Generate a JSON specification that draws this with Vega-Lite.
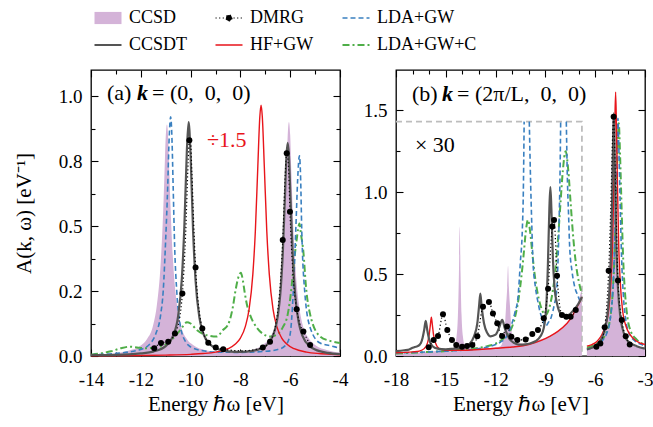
{
"$schema": "https://vega.github.io/schema/vega-lite/v6.json",
"padding": {"left": 12, "top": 9, "right": 5, "bottom": 5},
"spacing": 13,
"config": {
  "font": "Liberation Serif",
  "view": {"stroke": "black", "strokeWidth": 1.3},
  "axis": {"domain": false, "grid": false, "labelFont": "Liberation Serif", "labelFontSize": 19, "labelColor": "black", "tickColor": "black", "tickWidth": 1.1, "titleFont": "Liberation Serif", "titleFontSize": 21, "titleFontWeight": "normal", "titleColor": "black", "labelFlush": false, "labelOverlap": false, "labelBound": false},
  "legend": {"labelFont": "Liberation Serif"},
  "text": {"font": "Liberation Serif"}
},
"datasets": {
"A": [
{"s":"CCSD","g":0,"x":-14,"y":0.005},{"s":"CCSD","g":0,"x":-13,"y":0.011},{"s":"CCSD","g":0,"x":-12.5,"y":0.02},{"s":"CCSD","g":0,"x":-12,"y":0.04},{"s":"CCSD","g":0,"x":-11.75,"y":0.065},{"s":"CCSD","g":0,"x":-11.5,"y":0.12},{"s":"CCSD","g":0,"x":-11.35,"y":0.2},{"s":"CCSD","g":0,"x":-11.2,"y":0.36},{"s":"CCSD","g":0,"x":-11.1,"y":0.56},{"s":"CCSD","g":0,"x":-11.05,"y":0.7},{"s":"CCSD","g":0,"x":-11,"y":0.84},{"s":"CCSD","g":0,"x":-10.95,"y":0.89},{"s":"CCSD","g":0,"x":-10.9,"y":0.84},{"s":"CCSD","g":0,"x":-10.85,"y":0.7},{"s":"CCSD","g":0,"x":-10.8,"y":0.56},{"s":"CCSD","g":0,"x":-10.7,"y":0.36},{"s":"CCSD","g":0,"x":-10.55,"y":0.2},{"s":"CCSD","g":0,"x":-10.4,"y":0.12},{"s":"CCSD","g":0,"x":-10.15,"y":0.065},{"s":"CCSD","g":0,"x":-9.9,"y":0.042},{"s":"CCSD","g":0,"x":-9.4,"y":0.022},{"s":"CCSD","g":0,"x":-9,"y":0.016},{"s":"CCSD","g":0,"x":-8.5,"y":0.014},{"s":"CCSD","g":0,"x":-8,"y":0.016},{"s":"CCSD","g":0,"x":-7.5,"y":0.024},{"s":"CCSD","g":0,"x":-7.1,"y":0.042},{"s":"CCSD","g":0,"x":-6.85,"y":0.067},{"s":"CCSD","g":0,"x":-6.6,"y":0.12},{"s":"CCSD","g":0,"x":-6.45,"y":0.2},{"s":"CCSD","g":0,"x":-6.3,"y":0.36},{"s":"CCSD","g":0,"x":-6.2,"y":0.56},{"s":"CCSD","g":0,"x":-6.15,"y":0.7},{"s":"CCSD","g":0,"x":-6.1,"y":0.85},{"s":"CCSD","g":0,"x":-6.05,"y":0.9},{"s":"CCSD","g":0,"x":-6,"y":0.85},{"s":"CCSD","g":0,"x":-5.95,"y":0.7},{"s":"CCSD","g":0,"x":-5.9,"y":0.56},{"s":"CCSD","g":0,"x":-5.8,"y":0.36},{"s":"CCSD","g":0,"x":-5.65,"y":0.2},{"s":"CCSD","g":0,"x":-5.5,"y":0.12},{"s":"CCSD","g":0,"x":-5.25,"y":0.067},{"s":"CCSD","g":0,"x":-5,"y":0.042},{"s":"CCSD","g":0,"x":-4.5,"y":0.022},{"s":"CCSD","g":0,"x":-4,"y":0.013},
{"s":"CCSDT","g":0,"x":-14,"y":0.003},{"s":"CCSDT","g":0,"x":-13,"y":0.004},{"s":"CCSDT","g":0,"x":-12,"y":0.01},{"s":"CCSDT","g":0,"x":-11.5,"y":0.017},{"s":"CCSDT","g":0,"x":-11,"y":0.038},{"s":"CCSDT","g":0,"x":-10.7,"y":0.078},{"s":"CCSDT","g":0,"x":-10.5,"y":0.154},{"s":"CCSDT","g":0,"x":-10.35,"y":0.3},{"s":"CCSDT","g":0,"x":-10.25,"y":0.5},{"s":"CCSDT","g":0,"x":-10.15,"y":0.79},{"s":"CCSDT","g":0,"x":-10.08,"y":0.9},{"s":"CCSDT","g":0,"x":-10,"y":0.77},{"s":"CCSDT","g":0,"x":-9.9,"y":0.48},{"s":"CCSDT","g":0,"x":-9.8,"y":0.29},{"s":"CCSDT","g":0,"x":-9.65,"y":0.15},{"s":"CCSDT","g":0,"x":-9.5,"y":0.09},{"s":"CCSDT","g":0,"x":-9.2,"y":0.043},{"s":"CCSDT","g":0,"x":-9,"y":0.031},{"s":"CCSDT","g":0,"x":-8.5,"y":0.018},{"s":"CCSDT","g":0,"x":-8,"y":0.016},{"s":"CCSDT","g":0,"x":-7.5,"y":0.02},{"s":"CCSDT","g":0,"x":-7,"y":0.038},{"s":"CCSDT","g":0,"x":-6.75,"y":0.067},{"s":"CCSDT","g":0,"x":-6.5,"y":0.153},{"s":"CCSDT","g":0,"x":-6.4,"y":0.236},{"s":"CCSDT","g":0,"x":-6.3,"y":0.39},{"s":"CCSDT","g":0,"x":-6.2,"y":0.64},{"s":"CCSDT","g":0,"x":-6.15,"y":0.77},{"s":"CCSDT","g":0,"x":-6.1,"y":0.82},{"s":"CCSDT","g":0,"x":-6.05,"y":0.77},{"s":"CCSDT","g":0,"x":-6,"y":0.64},{"s":"CCSDT","g":0,"x":-5.9,"y":0.39},{"s":"CCSDT","g":0,"x":-5.8,"y":0.236},{"s":"CCSDT","g":0,"x":-5.65,"y":0.126},{"s":"CCSDT","g":0,"x":-5.5,"y":0.076},{"s":"CCSDT","g":0,"x":-5.2,"y":0.036},{"s":"CCSDT","g":0,"x":-5,"y":0.025},{"s":"CCSDT","g":0,"x":-4.5,"y":0.012},{"s":"CCSDT","g":0,"x":-4,"y":0.007},
{"s":"DMRG","g":0,"x":-11.46,"y":0.03},{"s":"DMRG","g":0,"x":-11.19,"y":0.05},{"s":"DMRG","g":0,"x":-10.9,"y":0.055},{"s":"DMRG","g":0,"x":-10.63,"y":0.087},{"s":"DMRG","g":0,"x":-10.45,"y":0.14},{"s":"DMRG","g":0,"x":-10.33,"y":0.24},{"s":"DMRG","g":0,"x":-10.2,"y":0.465},{"s":"DMRG","g":0,"x":-10.1,"y":0.74},{"s":"DMRG","g":0,"x":-10.05,"y":0.83},{"s":"DMRG","g":0,"x":-10,"y":0.82},{"s":"DMRG","g":0,"x":-9.95,"y":0.71},{"s":"DMRG","g":0,"x":-9.88,"y":0.52},{"s":"DMRG","g":0,"x":-9.8,"y":0.34},{"s":"DMRG","g":0,"x":-9.65,"y":0.17},{"s":"DMRG","g":0,"x":-9.53,"y":0.106},{"s":"DMRG","g":0,"x":-9.29,"y":0.051},{"s":"DMRG","g":0,"x":-8.99,"y":0.033},{"s":"DMRG","g":0,"x":-8.69,"y":0.026},{"s":"DMRG","g":0,"x":-7.9,"y":0.02},{"s":"DMRG","g":0,"x":-7.1,"y":0.033},{"s":"DMRG","g":0,"x":-6.81,"y":0.055},{"s":"DMRG","g":0,"x":-6.55,"y":0.14},{"s":"DMRG","g":0,"x":-6.42,"y":0.25},{"s":"DMRG","g":0,"x":-6.3,"y":0.446},{"s":"DMRG","g":0,"x":-6.2,"y":0.7},{"s":"DMRG","g":0,"x":-6.14,"y":0.78},{"s":"DMRG","g":0,"x":-6.07,"y":0.73},{"s":"DMRG","g":0,"x":-6.01,"y":0.555},{"s":"DMRG","g":0,"x":-5.9,"y":0.33},{"s":"DMRG","g":0,"x":-5.74,"y":0.18},{"s":"DMRG","g":0,"x":-5.6,"y":0.12},{"s":"DMRG","g":0,"x":-5.47,"y":0.094},{"s":"DMRG","g":0,"x":-5.2,"y":0.042},
{"s":"HF+GW","g":0,"x":-14,"y":0.001},{"s":"HF+GW","g":0,"x":-12,"y":0.002},{"s":"HF+GW","g":0,"x":-11,"y":0.0035},{"s":"HF+GW","g":0,"x":-10,"y":0.0064},{"s":"HF+GW","g":0,"x":-9.5,"y":0.0094},{"s":"HF+GW","g":0,"x":-9,"y":0.015},{"s":"HF+GW","g":0,"x":-8.5,"y":0.028},{"s":"HF+GW","g":0,"x":-8.2,"y":0.046},{"s":"HF+GW","g":0,"x":-8,"y":0.069},{"s":"HF+GW","g":0,"x":-7.8,"y":0.114},{"s":"HF+GW","g":0,"x":-7.65,"y":0.18},{"s":"HF+GW","g":0,"x":-7.5,"y":0.315},{"s":"HF+GW","g":0,"x":-7.4,"y":0.48},{"s":"HF+GW","g":0,"x":-7.3,"y":0.73},{"s":"HF+GW","g":0,"x":-7.22,"y":0.92},{"s":"HF+GW","g":0,"x":-7.17,"y":0.965},{"s":"HF+GW","g":0,"x":-7.12,"y":0.92},{"s":"HF+GW","g":0,"x":-7.04,"y":0.73},{"s":"HF+GW","g":0,"x":-6.94,"y":0.48},{"s":"HF+GW","g":0,"x":-6.84,"y":0.315},{"s":"HF+GW","g":0,"x":-6.69,"y":0.18},{"s":"HF+GW","g":0,"x":-6.54,"y":0.114},{"s":"HF+GW","g":0,"x":-6.34,"y":0.069},{"s":"HF+GW","g":0,"x":-6.14,"y":0.046},{"s":"HF+GW","g":0,"x":-5.84,"y":0.028},{"s":"HF+GW","g":0,"x":-5.34,"y":0.015},{"s":"HF+GW","g":0,"x":-4.84,"y":0.0094},{"s":"HF+GW","g":0,"x":-4.34,"y":0.0064},{"s":"HF+GW","g":0,"x":-4,"y":0.005},
{"s":"LDA+GW","g":0,"x":-14,"y":0.005},{"s":"LDA+GW","g":0,"x":-13,"y":0.01},{"s":"LDA+GW","g":0,"x":-12,"y":0.025},{"s":"LDA+GW","g":0,"x":-11.6,"y":0.05},{"s":"LDA+GW","g":0,"x":-11.4,"y":0.085},{"s":"LDA+GW","g":0,"x":-11.2,"y":0.16},{"s":"LDA+GW","g":0,"x":-11.1,"y":0.25},{"s":"LDA+GW","g":0,"x":-11,"y":0.45},{"s":"LDA+GW","g":0,"x":-10.92,"y":0.65},{"s":"LDA+GW","g":0,"x":-10.86,"y":0.84},{"s":"LDA+GW","g":0,"x":-10.8,"y":0.92},{"s":"LDA+GW","g":0,"x":-10.75,"y":0.84},{"s":"LDA+GW","g":0,"x":-10.7,"y":0.65},{"s":"LDA+GW","g":0,"x":-10.64,"y":0.42},{"s":"LDA+GW","g":0,"x":-10.55,"y":0.24},{"s":"LDA+GW","g":0,"x":-10.4,"y":0.11},{"s":"LDA+GW","g":0,"x":-10.2,"y":0.055},{"s":"LDA+GW","g":0,"x":-10,"y":0.035},{"s":"LDA+GW","g":0,"x":-9.5,"y":0.02},{"s":"LDA+GW","g":0,"x":-9,"y":0.015},{"s":"LDA+GW","g":0,"x":-8,"y":0.014},{"s":"LDA+GW","g":0,"x":-7,"y":0.018},{"s":"LDA+GW","g":0,"x":-6.5,"y":0.025},{"s":"LDA+GW","g":0,"x":-6.2,"y":0.04},{"s":"LDA+GW","g":0,"x":-6.01,"y":0.08},{"s":"LDA+GW","g":0,"x":-5.88,"y":0.24},{"s":"LDA+GW","g":0,"x":-5.77,"y":0.5},{"s":"LDA+GW","g":0,"x":-5.7,"y":0.68},{"s":"LDA+GW","g":0,"x":-5.63,"y":0.77},{"s":"LDA+GW","g":0,"x":-5.58,"y":0.68},{"s":"LDA+GW","g":0,"x":-5.54,"y":0.5},{"s":"LDA+GW","g":0,"x":-5.41,"y":0.24},{"s":"LDA+GW","g":0,"x":-5.2,"y":0.11},{"s":"LDA+GW","g":0,"x":-4.8,"y":0.05},{"s":"LDA+GW","g":0,"x":-4.4,"y":0.04},{"s":"LDA+GW","g":0,"x":-4,"y":0.03},
{"s":"LDA+GW+C","g":0,"x":-14,"y":0.005},{"s":"LDA+GW+C","g":0,"x":-13.6,"y":0.01},{"s":"LDA+GW+C","g":0,"x":-13.2,"y":0.018},{"s":"LDA+GW+C","g":0,"x":-12.8,"y":0.03},{"s":"LDA+GW+C","g":0,"x":-12.43,"y":0.036},{"s":"LDA+GW+C","g":0,"x":-12.1,"y":0.032},{"s":"LDA+GW+C","g":0,"x":-11.8,"y":0.03},{"s":"LDA+GW+C","g":0,"x":-11.4,"y":0.033},{"s":"LDA+GW+C","g":0,"x":-11,"y":0.045},{"s":"LDA+GW+C","g":0,"x":-10.74,"y":0.065},{"s":"LDA+GW+C","g":0,"x":-10.5,"y":0.09},{"s":"LDA+GW+C","g":0,"x":-10.3,"y":0.115},{"s":"LDA+GW+C","g":0,"x":-10.15,"y":0.13},{"s":"LDA+GW+C","g":0,"x":-10,"y":0.125},{"s":"LDA+GW+C","g":0,"x":-9.75,"y":0.1},{"s":"LDA+GW+C","g":0,"x":-9.35,"y":0.08},{"s":"LDA+GW+C","g":0,"x":-8.95,"y":0.075},{"s":"LDA+GW+C","g":0,"x":-8.7,"y":0.1},{"s":"LDA+GW+C","g":0,"x":-8.5,"y":0.12},{"s":"LDA+GW+C","g":0,"x":-8.42,"y":0.14},{"s":"LDA+GW+C","g":0,"x":-8.3,"y":0.19},{"s":"LDA+GW+C","g":0,"x":-8.2,"y":0.25},{"s":"LDA+GW+C","g":0,"x":-8.09,"y":0.3},{"s":"LDA+GW+C","g":0,"x":-7.98,"y":0.32},{"s":"LDA+GW+C","g":0,"x":-7.9,"y":0.29},{"s":"LDA+GW+C","g":0,"x":-7.82,"y":0.24},{"s":"LDA+GW+C","g":0,"x":-7.72,"y":0.19},{"s":"LDA+GW+C","g":0,"x":-7.62,"y":0.16},{"s":"LDA+GW+C","g":0,"x":-7.35,"y":0.11},{"s":"LDA+GW+C","g":0,"x":-7.09,"y":0.085},{"s":"LDA+GW+C","g":0,"x":-6.8,"y":0.075},{"s":"LDA+GW+C","g":0,"x":-6.5,"y":0.085},{"s":"LDA+GW+C","g":0,"x":-6.3,"y":0.11},{"s":"LDA+GW+C","g":0,"x":-6.1,"y":0.16},{"s":"LDA+GW+C","g":0,"x":-5.95,"y":0.26},{"s":"LDA+GW+C","g":0,"x":-5.85,"y":0.36},{"s":"LDA+GW+C","g":0,"x":-5.75,"y":0.44},{"s":"LDA+GW+C","g":0,"x":-5.68,"y":0.49},{"s":"LDA+GW+C","g":0,"x":-5.63,"y":0.51},{"s":"LDA+GW+C","g":0,"x":-5.57,"y":0.47},{"s":"LDA+GW+C","g":0,"x":-5.47,"y":0.4},{"s":"LDA+GW+C","g":0,"x":-5.37,"y":0.27},{"s":"LDA+GW+C","g":0,"x":-5.2,"y":0.16},{"s":"LDA+GW+C","g":0,"x":-4.8,"y":0.075},{"s":"LDA+GW+C","g":0,"x":-4.4,"y":0.058},{"s":"LDA+GW+C","g":0,"x":-4,"y":0.05}
],
"Adots": [
{"s":"DMRG","x":-11.46,"y":0.03},{"s":"DMRG","x":-11.19,"y":0.05},{"s":"DMRG","x":-10.9,"y":0.055},{"s":"DMRG","x":-10.63,"y":0.087},{"s":"DMRG","x":-10.33,"y":0.24},{"s":"DMRG","x":-10.05,"y":0.83},{"s":"DMRG","x":-9.8,"y":0.34},{"s":"DMRG","x":-9.53,"y":0.106},{"s":"DMRG","x":-9.29,"y":0.051},{"s":"DMRG","x":-8.99,"y":0.033},{"s":"DMRG","x":-8.69,"y":0.026},{"s":"DMRG","x":-7.1,"y":0.033},{"s":"DMRG","x":-6.81,"y":0.055},{"s":"DMRG","x":-6.3,"y":0.446},{"s":"DMRG","x":-6.14,"y":0.78},{"s":"DMRG","x":-6.01,"y":0.555},{"s":"DMRG","x":-5.74,"y":0.18},{"s":"DMRG","x":-5.47,"y":0.094},{"s":"DMRG","x":-5.2,"y":0.042}
],
"B": [
{"s":"CCSD","g":1,"x":-18,"y":0.015},{"s":"CCSD","g":1,"x":-17,"y":0.02},{"s":"CCSD","g":1,"x":-16,"y":0.028},{"s":"CCSD","g":1,"x":-15,"y":0.035},{"s":"CCSD","g":1,"x":-14.6,"y":0.045},{"s":"CCSD","g":1,"x":-14.45,"y":0.07},{"s":"CCSD","g":1,"x":-14.35,"y":0.12},{"s":"CCSD","g":1,"x":-14.27,"y":0.25},{"s":"CCSD","g":1,"x":-14.21,"y":0.5},{"s":"CCSD","g":1,"x":-14.16,"y":0.79},{"s":"CCSD","g":1,"x":-14.11,"y":0.5},{"s":"CCSD","g":1,"x":-14.05,"y":0.25},{"s":"CCSD","g":1,"x":-13.97,"y":0.12},{"s":"CCSD","g":1,"x":-13.87,"y":0.07},{"s":"CCSD","g":1,"x":-13.7,"y":0.05},{"s":"CCSD","g":1,"x":-13,"y":0.045},{"s":"CCSD","g":1,"x":-12.2,"y":0.05},{"s":"CCSD","g":1,"x":-11.7,"y":0.06},{"s":"CCSD","g":1,"x":-11.55,"y":0.1},{"s":"CCSD","g":1,"x":-11.45,"y":0.17},{"s":"CCSD","g":1,"x":-11.37,"y":0.3},{"s":"CCSD","g":1,"x":-11.3,"y":0.42},{"s":"CCSD","g":1,"x":-11.25,"y":0.55},{"s":"CCSD","g":1,"x":-11.2,"y":0.42},{"s":"CCSD","g":1,"x":-11.13,"y":0.3},{"s":"CCSD","g":1,"x":-11.05,"y":0.17},{"s":"CCSD","g":1,"x":-10.95,"y":0.11},{"s":"CCSD","g":1,"x":-10.8,"y":0.08},{"s":"CCSD","g":1,"x":-10.4,"y":0.075},{"s":"CCSD","g":1,"x":-10,"y":0.08},{"s":"CCSD","g":1,"x":-9.5,"y":0.095},{"s":"CCSD","g":1,"x":-9,"y":0.11},{"s":"CCSD","g":1,"x":-8.5,"y":0.135},{"s":"CCSD","g":1,"x":-8,"y":0.17},{"s":"CCSD","g":1,"x":-7.5,"y":0.23},{"s":"CCSD","g":1,"x":-7.2,"y":0.29},{"s":"CCSD","g":1,"x":-7,"y":0.34},{"s":"CCSD","g":1,"x":-6.8,"y":0.41},
{"s":"CCSD","g":2,"x":-6.5,"y":0.05},{"s":"CCSD","g":2,"x":-6.2,"y":0.06},{"s":"CCSD","g":2,"x":-6,"y":0.07},{"s":"CCSD","g":2,"x":-5.8,"y":0.09},{"s":"CCSD","g":2,"x":-5.6,"y":0.12},{"s":"CCSD","g":2,"x":-5.4,"y":0.2},{"s":"CCSD","g":2,"x":-5.25,"y":0.3},{"s":"CCSD","g":2,"x":-5.15,"y":0.5},{"s":"CCSD","g":2,"x":-5.07,"y":0.8},{"s":"CCSD","g":2,"x":-5,"y":1.2},{"s":"CCSD","g":2,"x":-4.93,"y":1.47},{"s":"CCSD","g":2,"x":-4.86,"y":1.2},{"s":"CCSD","g":2,"x":-4.79,"y":0.8},{"s":"CCSD","g":2,"x":-4.71,"y":0.5},{"s":"CCSD","g":2,"x":-4.61,"y":0.3},{"s":"CCSD","g":2,"x":-4.46,"y":0.2},{"s":"CCSD","g":2,"x":-4.26,"y":0.12},{"s":"CCSD","g":2,"x":-4,"y":0.08},{"s":"CCSD","g":2,"x":-3.6,"y":0.06},{"s":"CCSD","g":2,"x":-3.2,"y":0.05},{"s":"CCSD","g":2,"x":-3,"y":0.045},
{"s":"CCSDT","g":1,"x":-18,"y":0.03},{"s":"CCSDT","g":1,"x":-17.5,"y":0.035},{"s":"CCSDT","g":1,"x":-17.2,"y":0.04},{"s":"CCSDT","g":1,"x":-17,"y":0.05},{"s":"CCSDT","g":1,"x":-16.87,"y":0.055},{"s":"CCSDT","g":1,"x":-16.7,"y":0.06},{"s":"CCSDT","g":1,"x":-16.5,"y":0.08},{"s":"CCSDT","g":1,"x":-16.4,"y":0.11},{"s":"CCSDT","g":1,"x":-16.3,"y":0.16},{"s":"CCSDT","g":1,"x":-16.21,"y":0.215},{"s":"CCSDT","g":1,"x":-16.12,"y":0.16},{"s":"CCSDT","g":1,"x":-16,"y":0.1},{"s":"CCSDT","g":1,"x":-15.8,"y":0.06},{"s":"CCSDT","g":1,"x":-15.5,"y":0.045},{"s":"CCSDT","g":1,"x":-15,"y":0.04},{"s":"CCSDT","g":1,"x":-14.5,"y":0.045},{"s":"CCSDT","g":1,"x":-14,"y":0.05},{"s":"CCSDT","g":1,"x":-13.6,"y":0.07},{"s":"CCSDT","g":1,"x":-13.3,"y":0.12},{"s":"CCSDT","g":1,"x":-13.1,"y":0.2},{"s":"CCSDT","g":1,"x":-13,"y":0.3},{"s":"CCSDT","g":1,"x":-12.92,"y":0.38},{"s":"CCSDT","g":1,"x":-12.84,"y":0.3},{"s":"CCSDT","g":1,"x":-12.7,"y":0.2},{"s":"CCSDT","g":1,"x":-12.5,"y":0.14},{"s":"CCSDT","g":1,"x":-12.3,"y":0.12},{"s":"CCSDT","g":1,"x":-12,"y":0.13},{"s":"CCSDT","g":1,"x":-11.8,"y":0.17},{"s":"CCSDT","g":1,"x":-11.6,"y":0.22},{"s":"CCSDT","g":1,"x":-11.45,"y":0.17},{"s":"CCSDT","g":1,"x":-11.2,"y":0.11},{"s":"CCSDT","g":1,"x":-10.9,"y":0.08},{"s":"CCSDT","g":1,"x":-10.6,"y":0.07},{"s":"CCSDT","g":1,"x":-10.35,"y":0.07},{"s":"CCSDT","g":1,"x":-10,"y":0.075},{"s":"CCSDT","g":1,"x":-9.6,"y":0.09},{"s":"CCSDT","g":1,"x":-9.3,"y":0.12},{"s":"CCSDT","g":1,"x":-9.1,"y":0.17},{"s":"CCSDT","g":1,"x":-8.95,"y":0.3},{"s":"CCSDT","g":1,"x":-8.85,"y":0.55},{"s":"CCSDT","g":1,"x":-8.76,"y":0.9},{"s":"CCSDT","g":1,"x":-8.7,"y":1.03},{"s":"CCSDT","g":1,"x":-8.64,"y":0.9},{"s":"CCSDT","g":1,"x":-8.55,"y":0.6},{"s":"CCSDT","g":1,"x":-8.45,"y":0.42},{"s":"CCSDT","g":1,"x":-8.3,"y":0.32},{"s":"CCSDT","g":1,"x":-8.1,"y":0.26},{"s":"CCSDT","g":1,"x":-7.84,"y":0.24},{"s":"CCSDT","g":1,"x":-7.6,"y":0.25},{"s":"CCSDT","g":1,"x":-7.3,"y":0.28},{"s":"CCSDT","g":1,"x":-7,"y":0.32},{"s":"CCSDT","g":1,"x":-6.8,"y":0.36},
{"s":"CCSDT","g":2,"x":-6.5,"y":0.04},{"s":"CCSDT","g":2,"x":-6.2,"y":0.05},{"s":"CCSDT","g":2,"x":-6,"y":0.06},{"s":"CCSDT","g":2,"x":-5.8,"y":0.08},{"s":"CCSDT","g":2,"x":-5.6,"y":0.11},{"s":"CCSDT","g":2,"x":-5.4,"y":0.17},{"s":"CCSDT","g":2,"x":-5.25,"y":0.26},{"s":"CCSDT","g":2,"x":-5.13,"y":0.42},{"s":"CCSDT","g":2,"x":-5.03,"y":0.7},{"s":"CCSDT","g":2,"x":-4.96,"y":1.05},{"s":"CCSDT","g":2,"x":-4.92,"y":1.3},{"s":"CCSDT","g":2,"x":-4.88,"y":1.48},{"s":"CCSDT","g":2,"x":-4.84,"y":1.3},{"s":"CCSDT","g":2,"x":-4.8,"y":1.05},{"s":"CCSDT","g":2,"x":-4.73,"y":0.7},{"s":"CCSDT","g":2,"x":-4.63,"y":0.42},{"s":"CCSDT","g":2,"x":-4.51,"y":0.26},{"s":"CCSDT","g":2,"x":-4.36,"y":0.17},{"s":"CCSDT","g":2,"x":-4.16,"y":0.11},{"s":"CCSDT","g":2,"x":-3.9,"y":0.08},{"s":"CCSDT","g":2,"x":-3.5,"y":0.06},{"s":"CCSDT","g":2,"x":-3,"y":0.045},
{"s":"DMRG","g":1,"x":-16.03,"y":0.053},{"s":"DMRG","g":1,"x":-15.73,"y":0.098},{"s":"DMRG","g":1,"x":-15.47,"y":0.122},{"s":"DMRG","g":1,"x":-15.17,"y":0.254},{"s":"DMRG","g":1,"x":-14.91,"y":0.159},{"s":"DMRG","g":1,"x":-14.63,"y":0.098},{"s":"DMRG","g":1,"x":-14.37,"y":0.067},{"s":"DMRG","g":1,"x":-14.02,"y":0.057},{"s":"DMRG","g":1,"x":-13.72,"y":0.061},{"s":"DMRG","g":1,"x":-13.4,"y":0.067},{"s":"DMRG","g":1,"x":-13.1,"y":0.12},{"s":"DMRG","g":1,"x":-12.76,"y":0.3},{"s":"DMRG","g":1,"x":-12.4,"y":0.33},{"s":"DMRG","g":1,"x":-12.16,"y":0.26},{"s":"DMRG","g":1,"x":-11.9,"y":0.2},{"s":"DMRG","g":1,"x":-11.61,"y":0.122},{"s":"DMRG","g":1,"x":-11.31,"y":0.18},{"s":"DMRG","g":1,"x":-11.05,"y":0.118},{"s":"DMRG","g":1,"x":-10.69,"y":0.098},{"s":"DMRG","g":1,"x":-10.19,"y":0.1},{"s":"DMRG","g":1,"x":-9.79,"y":0.134},{"s":"DMRG","g":1,"x":-9.45,"y":0.159},{"s":"DMRG","g":1,"x":-9.1,"y":0.23},{"s":"DMRG","g":1,"x":-8.84,"y":0.41},{"s":"DMRG","g":1,"x":-8.58,"y":0.79},{"s":"DMRG","g":1,"x":-8.48,"y":0.83},{"s":"DMRG","g":1,"x":-8.3,"y":0.49},{"s":"DMRG","g":1,"x":-8,"y":0.25},{"s":"DMRG","g":1,"x":-7.74,"y":0.24},{"s":"DMRG","g":1,"x":-7.48,"y":0.24},{"s":"DMRG","g":1,"x":-7.17,"y":0.28},
{"s":"DMRG","g":2,"x":-5.93,"y":0.057},{"s":"DMRG","g":2,"x":-5.69,"y":0.077},{"s":"DMRG","g":2,"x":-5.43,"y":0.175},{"s":"DMRG","g":2,"x":-5.19,"y":0.52},{"s":"DMRG","g":2,"x":-5.05,"y":0.95},{"s":"DMRG","g":2,"x":-4.95,"y":1.35},{"s":"DMRG","g":2,"x":-4.89,"y":1.46},{"s":"DMRG","g":2,"x":-4.82,"y":1.25},{"s":"DMRG","g":2,"x":-4.72,"y":0.8},{"s":"DMRG","g":2,"x":-4.63,"y":0.46},{"s":"DMRG","g":2,"x":-4.4,"y":0.22},{"s":"DMRG","g":2,"x":-4.16,"y":0.12},{"s":"DMRG","g":2,"x":-3.92,"y":0.07},
{"s":"HF+GW","g":1,"x":-18,"y":0.02},{"s":"HF+GW","g":1,"x":-17,"y":0.025},{"s":"HF+GW","g":1,"x":-16.6,"y":0.03},{"s":"HF+GW","g":1,"x":-16.3,"y":0.045},{"s":"HF+GW","g":1,"x":-16.1,"y":0.08},{"s":"HF+GW","g":1,"x":-16,"y":0.13},{"s":"HF+GW","g":1,"x":-15.93,"y":0.19},{"s":"HF+GW","g":1,"x":-15.87,"y":0.236},{"s":"HF+GW","g":1,"x":-15.81,"y":0.19},{"s":"HF+GW","g":1,"x":-15.74,"y":0.13},{"s":"HF+GW","g":1,"x":-15.62,"y":0.08},{"s":"HF+GW","g":1,"x":-15.4,"y":0.045},{"s":"HF+GW","g":1,"x":-15,"y":0.035},{"s":"HF+GW","g":1,"x":-14,"y":0.035},{"s":"HF+GW","g":1,"x":-13,"y":0.04},{"s":"HF+GW","g":1,"x":-12,"y":0.047},{"s":"HF+GW","g":1,"x":-11,"y":0.055},{"s":"HF+GW","g":1,"x":-10,"y":0.07},{"s":"HF+GW","g":1,"x":-9.25,"y":0.095},{"s":"HF+GW","g":1,"x":-8.74,"y":0.12},{"s":"HF+GW","g":1,"x":-8.25,"y":0.15},{"s":"HF+GW","g":1,"x":-7.74,"y":0.195},{"s":"HF+GW","g":1,"x":-7.4,"y":0.24},{"s":"HF+GW","g":1,"x":-7.2,"y":0.28},{"s":"HF+GW","g":1,"x":-6.93,"y":0.33},{"s":"HF+GW","g":1,"x":-6.8,"y":0.36},
{"s":"HF+GW","g":2,"x":-6.5,"y":0.06},{"s":"HF+GW","g":2,"x":-6.2,"y":0.07},{"s":"HF+GW","g":2,"x":-6,"y":0.08},{"s":"HF+GW","g":2,"x":-5.8,"y":0.1},{"s":"HF+GW","g":2,"x":-5.6,"y":0.13},{"s":"HF+GW","g":2,"x":-5.4,"y":0.18},{"s":"HF+GW","g":2,"x":-5.2,"y":0.27},{"s":"HF+GW","g":2,"x":-5.05,"y":0.45},{"s":"HF+GW","g":2,"x":-4.95,"y":0.7},{"s":"HF+GW","g":2,"x":-4.88,"y":1.05},{"s":"HF+GW","g":2,"x":-4.82,"y":1.4},{"s":"HF+GW","g":2,"x":-4.77,"y":1.61},{"s":"HF+GW","g":2,"x":-4.72,"y":1.4},{"s":"HF+GW","g":2,"x":-4.66,"y":1.05},{"s":"HF+GW","g":2,"x":-4.59,"y":0.7},{"s":"HF+GW","g":2,"x":-4.49,"y":0.45},{"s":"HF+GW","g":2,"x":-4.34,"y":0.27},{"s":"HF+GW","g":2,"x":-4.14,"y":0.18},{"s":"HF+GW","g":2,"x":-3.9,"y":0.13},{"s":"HF+GW","g":2,"x":-3.5,"y":0.09},{"s":"HF+GW","g":2,"x":-3,"y":0.07},
{"s":"LDA+GW","g":1,"x":-18,"y":0.02},{"s":"LDA+GW","g":1,"x":-17,"y":0.022},{"s":"LDA+GW","g":1,"x":-16,"y":0.025},{"s":"LDA+GW","g":1,"x":-15,"y":0.03},{"s":"LDA+GW","g":1,"x":-14,"y":0.035},{"s":"LDA+GW","g":1,"x":-13,"y":0.045},{"s":"LDA+GW","g":1,"x":-12.5,"y":0.055},{"s":"LDA+GW","g":1,"x":-12,"y":0.07},{"s":"LDA+GW","g":1,"x":-11.7,"y":0.085},{"s":"LDA+GW","g":1,"x":-11.4,"y":0.11},{"s":"LDA+GW","g":1,"x":-11.15,"y":0.16},{"s":"LDA+GW","g":1,"x":-10.85,"y":0.26},{"s":"LDA+GW","g":1,"x":-10.65,"y":0.36},{"s":"LDA+GW","g":1,"x":-10.51,"y":0.57},{"s":"LDA+GW","g":1,"x":-10.39,"y":0.77},{"s":"LDA+GW","g":1,"x":-10.33,"y":1.0},{"s":"LDA+GW","g":1,"x":-10.28,"y":1.43},
{"s":"LDA+GW","g":2,"x":-9.97,"y":1.43},{"s":"LDA+GW","g":2,"x":-9.9,"y":1.1},{"s":"LDA+GW","g":2,"x":-9.82,"y":0.8},{"s":"LDA+GW","g":2,"x":-9.75,"y":0.58},{"s":"LDA+GW","g":2,"x":-9.6,"y":0.42},{"s":"LDA+GW","g":2,"x":-9.45,"y":0.33},{"s":"LDA+GW","g":2,"x":-9.3,"y":0.26},{"s":"LDA+GW","g":2,"x":-9.15,"y":0.22},{"s":"LDA+GW","g":2,"x":-9,"y":0.18},{"s":"LDA+GW","g":2,"x":-8.85,"y":0.2},{"s":"LDA+GW","g":2,"x":-8.64,"y":0.24},{"s":"LDA+GW","g":2,"x":-8.45,"y":0.32},{"s":"LDA+GW","g":2,"x":-8.34,"y":0.38},{"s":"LDA+GW","g":2,"x":-8.25,"y":0.55},{"s":"LDA+GW","g":2,"x":-8.18,"y":0.8},{"s":"LDA+GW","g":2,"x":-8.12,"y":1.1},{"s":"LDA+GW","g":2,"x":-8.08,"y":1.43},
{"s":"LDA+GW","g":3,"x":-7.74,"y":1.43},{"s":"LDA+GW","g":3,"x":-7.68,"y":1.1},{"s":"LDA+GW","g":3,"x":-7.6,"y":0.85},{"s":"LDA+GW","g":3,"x":-7.54,"y":0.67},{"s":"LDA+GW","g":3,"x":-7.4,"y":0.52},{"s":"LDA+GW","g":3,"x":-7.23,"y":0.42},{"s":"LDA+GW","g":3,"x":-7.05,"y":0.37},{"s":"LDA+GW","g":3,"x":-6.93,"y":0.34},{"s":"LDA+GW","g":3,"x":-6.8,"y":0.33},
{"s":"LDA+GW","g":4,"x":-6.5,"y":0.04},{"s":"LDA+GW","g":4,"x":-6,"y":0.06},{"s":"LDA+GW","g":4,"x":-5.6,"y":0.09},{"s":"LDA+GW","g":4,"x":-5.3,"y":0.14},{"s":"LDA+GW","g":4,"x":-5.1,"y":0.22},{"s":"LDA+GW","g":4,"x":-4.95,"y":0.38},{"s":"LDA+GW","g":4,"x":-4.85,"y":0.6},{"s":"LDA+GW","g":4,"x":-4.76,"y":0.95},{"s":"LDA+GW","g":4,"x":-4.69,"y":1.25},{"s":"LDA+GW","g":4,"x":-4.63,"y":1.45},{"s":"LDA+GW","g":4,"x":-4.57,"y":1.25},{"s":"LDA+GW","g":4,"x":-4.5,"y":0.95},{"s":"LDA+GW","g":4,"x":-4.41,"y":0.6},{"s":"LDA+GW","g":4,"x":-4.31,"y":0.38},{"s":"LDA+GW","g":4,"x":-4.16,"y":0.22},{"s":"LDA+GW","g":4,"x":-3.96,"y":0.14},{"s":"LDA+GW","g":4,"x":-3.6,"y":0.09},{"s":"LDA+GW","g":4,"x":-3.2,"y":0.07},{"s":"LDA+GW","g":4,"x":-3,"y":0.06},
{"s":"LDA+GW+C","g":1,"x":-18,"y":0.015},{"s":"LDA+GW+C","g":1,"x":-17,"y":0.02},{"s":"LDA+GW+C","g":1,"x":-16,"y":0.025},{"s":"LDA+GW+C","g":1,"x":-15,"y":0.03},{"s":"LDA+GW+C","g":1,"x":-14,"y":0.04},{"s":"LDA+GW+C","g":1,"x":-13,"y":0.05},{"s":"LDA+GW+C","g":1,"x":-12.5,"y":0.06},{"s":"LDA+GW+C","g":1,"x":-12,"y":0.075},{"s":"LDA+GW+C","g":1,"x":-11.6,"y":0.1},{"s":"LDA+GW+C","g":1,"x":-11.3,"y":0.13},{"s":"LDA+GW+C","g":1,"x":-11,"y":0.18},{"s":"LDA+GW+C","g":1,"x":-10.8,"y":0.25},{"s":"LDA+GW+C","g":1,"x":-10.6,"y":0.36},{"s":"LDA+GW+C","g":1,"x":-10.45,"y":0.48},{"s":"LDA+GW+C","g":1,"x":-10.3,"y":0.63},{"s":"LDA+GW+C","g":1,"x":-10.18,"y":0.76},{"s":"LDA+GW+C","g":1,"x":-10.05,"y":0.83},{"s":"LDA+GW+C","g":1,"x":-9.92,"y":0.76},{"s":"LDA+GW+C","g":1,"x":-9.8,"y":0.64},{"s":"LDA+GW+C","g":1,"x":-9.65,"y":0.5},{"s":"LDA+GW+C","g":1,"x":-9.5,"y":0.4},{"s":"LDA+GW+C","g":1,"x":-9.3,"y":0.31},{"s":"LDA+GW+C","g":1,"x":-9.1,"y":0.26},{"s":"LDA+GW+C","g":1,"x":-9,"y":0.25},{"s":"LDA+GW+C","g":1,"x":-8.85,"y":0.27},{"s":"LDA+GW+C","g":1,"x":-8.7,"y":0.32},{"s":"LDA+GW+C","g":1,"x":-8.55,"y":0.4},{"s":"LDA+GW+C","g":1,"x":-8.4,"y":0.52},{"s":"LDA+GW+C","g":1,"x":-8.25,"y":0.7},{"s":"LDA+GW+C","g":1,"x":-8.1,"y":0.92},{"s":"LDA+GW+C","g":1,"x":-7.95,"y":1.13},{"s":"LDA+GW+C","g":1,"x":-7.78,"y":1.25},{"s":"LDA+GW+C","g":1,"x":-7.62,"y":1.13},{"s":"LDA+GW+C","g":1,"x":-7.47,"y":0.92},{"s":"LDA+GW+C","g":1,"x":-7.32,"y":0.72},{"s":"LDA+GW+C","g":1,"x":-7.17,"y":0.57},{"s":"LDA+GW+C","g":1,"x":-7,"y":0.46},{"s":"LDA+GW+C","g":1,"x":-6.8,"y":0.38},
{"s":"LDA+GW+C","g":2,"x":-6.5,"y":0.05},{"s":"LDA+GW+C","g":2,"x":-6,"y":0.07},{"s":"LDA+GW+C","g":2,"x":-5.6,"y":0.1},{"s":"LDA+GW+C","g":2,"x":-5.3,"y":0.15},{"s":"LDA+GW+C","g":2,"x":-5.1,"y":0.23},{"s":"LDA+GW+C","g":2,"x":-4.95,"y":0.38},{"s":"LDA+GW+C","g":2,"x":-4.85,"y":0.58},{"s":"LDA+GW+C","g":2,"x":-4.75,"y":0.9},{"s":"LDA+GW+C","g":2,"x":-4.66,"y":1.22},{"s":"LDA+GW+C","g":2,"x":-4.58,"y":1.42},{"s":"LDA+GW+C","g":2,"x":-4.5,"y":1.22},{"s":"LDA+GW+C","g":2,"x":-4.41,"y":0.9},{"s":"LDA+GW+C","g":2,"x":-4.31,"y":0.58},{"s":"LDA+GW+C","g":2,"x":-4.2,"y":0.38},{"s":"LDA+GW+C","g":2,"x":-4.05,"y":0.23},{"s":"LDA+GW+C","g":2,"x":-3.85,"y":0.15},{"s":"LDA+GW+C","g":2,"x":-3.5,"y":0.1},{"s":"LDA+GW+C","g":2,"x":-3,"y":0.07}
],
"Bdots": [
{"s":"DMRG","x":-16.03,"y":0.053},{"s":"DMRG","x":-15.73,"y":0.098},{"s":"DMRG","x":-15.47,"y":0.122},{"s":"DMRG","x":-15.17,"y":0.254},{"s":"DMRG","x":-14.91,"y":0.159},{"s":"DMRG","x":-14.63,"y":0.098},{"s":"DMRG","x":-14.37,"y":0.067},{"s":"DMRG","x":-14.02,"y":0.057},{"s":"DMRG","x":-13.72,"y":0.061},{"s":"DMRG","x":-13.4,"y":0.067},{"s":"DMRG","x":-13.1,"y":0.12},{"s":"DMRG","x":-12.76,"y":0.3},{"s":"DMRG","x":-12.4,"y":0.33},{"s":"DMRG","x":-12.16,"y":0.26},{"s":"DMRG","x":-11.9,"y":0.2},{"s":"DMRG","x":-11.61,"y":0.122},{"s":"DMRG","x":-11.31,"y":0.18},{"s":"DMRG","x":-11.05,"y":0.118},{"s":"DMRG","x":-10.69,"y":0.098},{"s":"DMRG","x":-10.19,"y":0.1},{"s":"DMRG","x":-9.79,"y":0.134},{"s":"DMRG","x":-9.45,"y":0.159},{"s":"DMRG","x":-9.1,"y":0.23},{"s":"DMRG","x":-8.84,"y":0.41},{"s":"DMRG","x":-8.58,"y":0.79},{"s":"DMRG","x":-8.48,"y":0.83},{"s":"DMRG","x":-8.3,"y":0.49},{"s":"DMRG","x":-8,"y":0.25},{"s":"DMRG","x":-7.74,"y":0.24},{"s":"DMRG","x":-7.48,"y":0.24},{"s":"DMRG","x":-7.17,"y":0.28},
{"s":"DMRG","x":-5.93,"y":0.057},{"s":"DMRG","x":-5.69,"y":0.077},{"s":"DMRG","x":-5.43,"y":0.175},{"s":"DMRG","x":-5.19,"y":0.52},{"s":"DMRG","x":-4.89,"y":1.46},{"s":"DMRG","x":-4.63,"y":0.46},{"s":"DMRG","x":-4.4,"y":0.22},{"s":"DMRG","x":-4.16,"y":0.12},{"s":"DMRG","x":-3.92,"y":0.07}
]
},
"hconcat": [
{
 "width": 249, "height": 286,
 "resolve": {"axis": {"x": "independent", "y": "independent"}},
 "layer": [
  {
   "layer": [
    {"data": {"name": "A"}, "transform": [{"filter": "datum.s == 'CCSD'"}],
     "mark": {"type": "area", "interpolate": "monotone"},
     "encoding": {
      "x": {"field": "x", "type": "quantitative", "scale": {"domain": [-14, -4], "nice": false, "zero": false},
            "axis": {"orient": "bottom", "values": [-14,-12,-10,-8,-6,-4], "labelExpr": "datum.value < 0 ? '-' + abs(datum.value) : '' + datum.value", "tickSize": -7, "labelOverlap": false, "labelPadding": 21, "title": "Energy ℏω [eV]", "titlePadding": 4}},
      "y": {"field": "y", "type": "quantitative", "stack": null, "scale": {"domain": [0, 1.1], "nice": false, "zero": false},
            "axis": {"orient": "left", "values": [0,0.25,0.5,0.75,1], "labelExpr": "datum.value == 0.25 ? '0.2' : format(datum.value, '.1f')", "tickSize": -7, "labelOverlap": false, "labelPadding": 16, "title": "A(k, ω) [eV⁻¹]", "titlePadding": 24}},
      "color": {"field": "s", "type": "nominal",
        "scale": {"domain": ["CCSD","DMRG","LDA+GW","CCSDT","HF+GW","LDA+GW+C"], "range": ["#d4b3d8","#000000","#3a80c0","#555555","#e8151b","#4fae48"]},
        "legend": {"title": null, "orient": "none", "legendX": 8, "legendY": -61, "direction": "horizontal", "columns": 3, "padding": 0,
          "labelFont": "Liberation Serif", "labelFontSize": 18, "labelColor": "black", "symbolSize": 729, "labelOffset": 12, "columnPadding": 24, "rowPadding": 9,
          "encode": {"symbols": {"update": {
            "shape": {"signal": "datum.value === 'CCSD' ? 'M-1,-0.45L1,-0.45L1,0.45L-1,0.45Z' : (datum.value === 'DMRG' ? 'M-1,0L1,0M0.22,0A0.22,0.22,0,1,1,-0.22,0A0.22,0.22,0,1,1,0.22,0Z' : 'stroke')"},
            "fill": {"signal": "datum.value === 'CCSD' ? '#d4b3d8' : (datum.value === 'DMRG' ? '#000000' : 'transparent')"},
            "stroke": {"signal": "datum.value === 'CCSD' ? 'transparent' : scale('color', datum.value)"},
            "strokeDash": {"signal": "datum.value === 'DMRG' ? [1.2,2.4] : (datum.value === 'LDA+GW' ? [5,3] : (datum.value === 'LDA+GW+C' ? [7,3,2,3] : [1,0]))"},
            "strokeWidth": {"signal": "datum.value === 'CCSDT' ? 2.2 : (datum.value === 'HF+GW' ? 1.4 : (datum.value === 'DMRG' ? 1.2 : (datum.value === 'LDA+GW' ? 1.6 : (datum.value === 'LDA+GW+C' ? 2 : 0))))"},
            "opacity": {"value": 1}
          }}}
        }},
      "detail": {"field": "g", "type": "nominal"}
     }},
    {"data": {"name": "A"}, "transform": [{"filter": "datum.s == 'LDA+GW+C'"}],
     "mark": {"type": "line", "interpolate": "monotone", "strokeWidth": 2, "strokeDash": [7,3,2,3]},
     "encoding": {"x": {"field": "x", "type": "quantitative"}, "y": {"field": "y", "type": "quantitative"}, "color": {"field": "s", "type": "nominal"}, "detail": {"field": "g", "type": "nominal"}}},
    {"data": {"name": "A"}, "transform": [{"filter": "datum.s == 'LDA+GW'"}],
     "mark": {"type": "line", "interpolate": "monotone", "strokeWidth": 1.6, "strokeDash": [5,3]},
     "encoding": {"x": {"field": "x", "type": "quantitative"}, "y": {"field": "y", "type": "quantitative"}, "color": {"field": "s", "type": "nominal"}, "detail": {"field": "g", "type": "nominal"}}},
    {"data": {"name": "A"}, "transform": [{"filter": "datum.s == 'HF+GW'"}],
     "mark": {"type": "line", "interpolate": "monotone", "strokeWidth": 1.4},
     "encoding": {"x": {"field": "x", "type": "quantitative"}, "y": {"field": "y", "type": "quantitative"}, "color": {"field": "s", "type": "nominal"}, "detail": {"field": "g", "type": "nominal"}}},
    {"data": {"name": "A"}, "transform": [{"filter": "datum.s == 'CCSDT'"}],
     "mark": {"type": "line", "interpolate": "monotone", "strokeWidth": 2.2},
     "encoding": {"x": {"field": "x", "type": "quantitative"}, "y": {"field": "y", "type": "quantitative"}, "color": {"field": "s", "type": "nominal"}, "detail": {"field": "g", "type": "nominal"}}},
    {"data": {"name": "A"}, "transform": [{"filter": "datum.s == 'DMRG'"}],
     "mark": {"type": "line", "interpolate": "monotone", "strokeWidth": 1.2, "strokeDash": [1.2,2.4]},
     "encoding": {"x": {"field": "x", "type": "quantitative"}, "y": {"field": "y", "type": "quantitative"}, "color": {"field": "s", "type": "nominal"}, "detail": {"field": "g", "type": "nominal"}}},
    {"data": {"name": "Adots"},
     "mark": {"type": "point", "filled": true, "size": 36, "opacity": 1},
     "encoding": {"x": {"field": "x", "type": "quantitative"}, "y": {"field": "y", "type": "quantitative"}, "color": {"field": "s", "type": "nominal"}}},
    {"data": {"values": [{"x": -13.36, "y": 1.01, "t": "(a)"}, {"x": -11.55, "y": 1.01, "t": "="}, {"x": -10.83, "y": 1.01, "t": "(0,\u20020,\u20020)"}]},
     "mark": {"type": "text", "align": "left", "baseline": "middle", "fontSize": 22, "font": "Liberation Serif", "color": "black"},
     "encoding": {"x": {"field": "x", "type": "quantitative"}, "y": {"field": "y", "type": "quantitative"}, "text": {"field": "t"}}},
    {"data": {"values": [{"x": -12.15, "y": 1.01, "t": "k"}]},
     "mark": {"type": "text", "align": "left", "baseline": "middle", "fontSize": 22, "font": "Liberation Serif", "fontStyle": "italic", "fontWeight": "bold", "color": "black"},
     "encoding": {"x": {"field": "x", "type": "quantitative"}, "y": {"field": "y", "type": "quantitative"}, "text": {"field": "t"}}},
    {"data": {"values": [{"x": -9.34, "y": 0.83, "t": "÷1.5"}]},
     "mark": {"type": "text", "align": "left", "baseline": "middle", "fontSize": 22, "font": "Liberation Serif", "color": "#e8151b"},
     "encoding": {"x": {"field": "x", "type": "quantitative"}, "y": {"field": "y", "type": "quantitative"}, "text": {"field": "t"}}}
   ]
  },
  {"data": {"values": [{"x": -14, "y": 0}]},
   "mark": {"type": "point", "opacity": 0},
   "encoding": {
    "x": {"field": "x", "type": "quantitative", "scale": {"domain": [-14, -4], "nice": false, "zero": false},
          "axis": {"orient": "top", "values": [-14,-13,-12,-11,-10,-9,-8,-7,-6,-5,-4], "labels": false, "title": null, "tickSize": {"condition": {"test": "datum.value % 2 == 0", "value": -7}, "value": -4}}},
    "y": {"field": "y", "type": "quantitative", "scale": {"domain": [0, 1.1], "nice": false, "zero": false},
          "axis": {"orient": "right", "values": [0,0.125,0.25,0.375,0.5,0.625,0.75,0.875,1], "labels": false, "title": null, "tickSize": {"condition": {"test": "datum.value % 0.25 == 0", "value": -7}, "value": -4}}}
   }},
  {"data": {"values": [{"x": -14, "y": 0}]},
   "mark": {"type": "point", "opacity": 0},
   "encoding": {
    "x": {"field": "x", "type": "quantitative", "scale": {"domain": [-14, -4], "nice": false, "zero": false},
          "axis": {"orient": "bottom", "values": [-13,-11,-9,-7,-5], "labels": false, "title": null, "tickSize": -4}},
    "y": {"field": "y", "type": "quantitative", "scale": {"domain": [0, 1.1], "nice": false, "zero": false},
          "axis": {"orient": "left", "values": [0.125,0.375,0.625,0.875], "labels": false, "title": null, "tickSize": -4}}
   }}
 ]
},
{
 "width": 249, "height": 286,
 "resolve": {"axis": {"x": "independent", "y": "independent"}},
 "layer": [
  {
   "layer": [
    {"data": {"name": "B"}, "transform": [{"filter": "datum.s == 'CCSD'"}],
     "mark": {"type": "area", "interpolate": "monotone"},
     "encoding": {
      "x": {"field": "x", "type": "quantitative", "scale": {"domain": [-18, -3], "nice": false, "zero": false},
            "axis": {"orient": "bottom", "values": [-18,-15,-12,-9,-6,-3], "labelExpr": "datum.value < 0 ? '-' + abs(datum.value) : '' + datum.value", "tickSize": -7, "labelOverlap": false, "labelPadding": 21, "title": "Energy ℏω [eV]", "titlePadding": 4}},
      "y": {"field": "y", "type": "quantitative", "stack": null, "scale": {"domain": [0, 1.745], "nice": false, "zero": false},
            "axis": {"orient": "left", "values": [0,0.5,1,1.5], "labelExpr": "format(datum.value, '.1f')", "tickSize": -7, "labelOverlap": false, "labelPadding": 16, "title": null}},
      "color": {"field": "s", "type": "nominal",
        "scale": {"domain": ["CCSD","DMRG","LDA+GW","CCSDT","HF+GW","LDA+GW+C"], "range": ["#d4b3d8","#000000","#3a80c0","#555555","#e8151b","#4fae48"]}},
      "detail": {"field": "g", "type": "nominal"}
     }},
    {"data": {"values": [{"x": -18, "y": 1.43, "o": 1}, {"x": -6.8, "y": 1.43, "o": 2}, {"x": -6.8, "y": 0, "o": 3}]},
     "mark": {"type": "line", "color": "#bdbdbd", "strokeWidth": 1.8, "strokeDash": [6,4]},
     "encoding": {"x": {"field": "x", "type": "quantitative"}, "y": {"field": "y", "type": "quantitative"}, "order": {"field": "o"}}},
    {"data": {"name": "B"}, "transform": [{"filter": "datum.s == 'LDA+GW+C'"}],
     "mark": {"type": "line", "interpolate": "monotone", "strokeWidth": 2, "strokeDash": [7,3,2,3]},
     "encoding": {"x": {"field": "x", "type": "quantitative"}, "y": {"field": "y", "type": "quantitative"}, "color": {"field": "s", "type": "nominal"}, "detail": {"field": "g", "type": "nominal"}}},
    {"data": {"name": "B"}, "transform": [{"filter": "datum.s == 'LDA+GW'"}],
     "mark": {"type": "line", "interpolate": "monotone", "strokeWidth": 1.6, "strokeDash": [5,3]},
     "encoding": {"x": {"field": "x", "type": "quantitative"}, "y": {"field": "y", "type": "quantitative"}, "color": {"field": "s", "type": "nominal"}, "detail": {"field": "g", "type": "nominal"}}},
    {"data": {"name": "B"}, "transform": [{"filter": "datum.s == 'HF+GW'"}],
     "mark": {"type": "line", "interpolate": "monotone", "strokeWidth": 1.4},
     "encoding": {"x": {"field": "x", "type": "quantitative"}, "y": {"field": "y", "type": "quantitative"}, "color": {"field": "s", "type": "nominal"}, "detail": {"field": "g", "type": "nominal"}}},
    {"data": {"name": "B"}, "transform": [{"filter": "datum.s == 'CCSDT'"}],
     "mark": {"type": "line", "interpolate": "monotone", "strokeWidth": 2.2},
     "encoding": {"x": {"field": "x", "type": "quantitative"}, "y": {"field": "y", "type": "quantitative"}, "color": {"field": "s", "type": "nominal"}, "detail": {"field": "g", "type": "nominal"}}},
    {"data": {"name": "B"}, "transform": [{"filter": "datum.s == 'DMRG'"}],
     "mark": {"type": "line", "interpolate": "monotone", "strokeWidth": 1.2, "strokeDash": [1.2,2.4]},
     "encoding": {"x": {"field": "x", "type": "quantitative"}, "y": {"field": "y", "type": "quantitative"}, "color": {"field": "s", "type": "nominal"}, "detail": {"field": "g", "type": "nominal"}}},
    {"data": {"name": "Bdots"},
     "mark": {"type": "point", "filled": true, "size": 36, "opacity": 1},
     "encoding": {"x": {"field": "x", "type": "quantitative"}, "y": {"field": "y", "type": "quantitative"}, "color": {"field": "s", "type": "nominal"}}},
    {"data": {"values": [{"x": -17.04, "y": 1.6, "t": "(b)"}, {"x": -14.33, "y": 1.6, "t": "="}, {"x": -13.24, "y": 1.6, "t": "(2π/L,\u20020,\u20020)"}, {"x": -16.86, "y": 1.29, "t": "× 30"}]},
     "mark": {"type": "text", "align": "left", "baseline": "middle", "fontSize": 22, "font": "Liberation Serif", "color": "black"},
     "encoding": {"x": {"field": "x", "type": "quantitative"}, "y": {"field": "y", "type": "quantitative"}, "text": {"field": "t"}}},
    {"data": {"values": [{"x": -15.23, "y": 1.6, "t": "k"}]},
     "mark": {"type": "text", "align": "left", "baseline": "middle", "fontSize": 22, "font": "Liberation Serif", "fontStyle": "italic", "fontWeight": "bold", "color": "black"},
     "encoding": {"x": {"field": "x", "type": "quantitative"}, "y": {"field": "y", "type": "quantitative"}, "text": {"field": "t"}}}
   ]
  },
  {"data": {"values": [{"x": -18, "y": 0}]},
   "mark": {"type": "point", "opacity": 0},
   "encoding": {
    "x": {"field": "x", "type": "quantitative", "scale": {"domain": [-18, -3], "nice": false, "zero": false},
          "axis": {"orient": "top", "values": [-18,-17,-16,-15,-14,-13,-12,-11,-10,-9,-8,-7,-6,-5,-4,-3], "labels": false, "title": null, "tickSize": {"condition": {"test": "datum.value % 3 == 0", "value": -7}, "value": -4}}},
    "y": {"field": "y", "type": "quantitative", "scale": {"domain": [0, 1.745], "nice": false, "zero": false},
          "axis": {"orient": "right", "values": [0,0.25,0.5,0.75,1,1.25,1.5], "labels": false, "title": null, "tickSize": {"condition": {"test": "datum.value % 0.5 == 0", "value": -7}, "value": -4}}}
   }},
  {"data": {"values": [{"x": -18, "y": 0}]},
   "mark": {"type": "point", "opacity": 0},
   "encoding": {
    "x": {"field": "x", "type": "quantitative", "scale": {"domain": [-18, -3], "nice": false, "zero": false},
          "axis": {"orient": "bottom", "values": [-17,-16,-14,-13,-11,-10,-8,-7,-5,-4], "labels": false, "title": null, "tickSize": -4}},
    "y": {"field": "y", "type": "quantitative", "scale": {"domain": [0, 1.745], "nice": false, "zero": false},
          "axis": {"orient": "left", "values": [0.25,0.75,1.25], "labels": false, "title": null, "tickSize": -4}}
   }}
 ]
}
]
}
